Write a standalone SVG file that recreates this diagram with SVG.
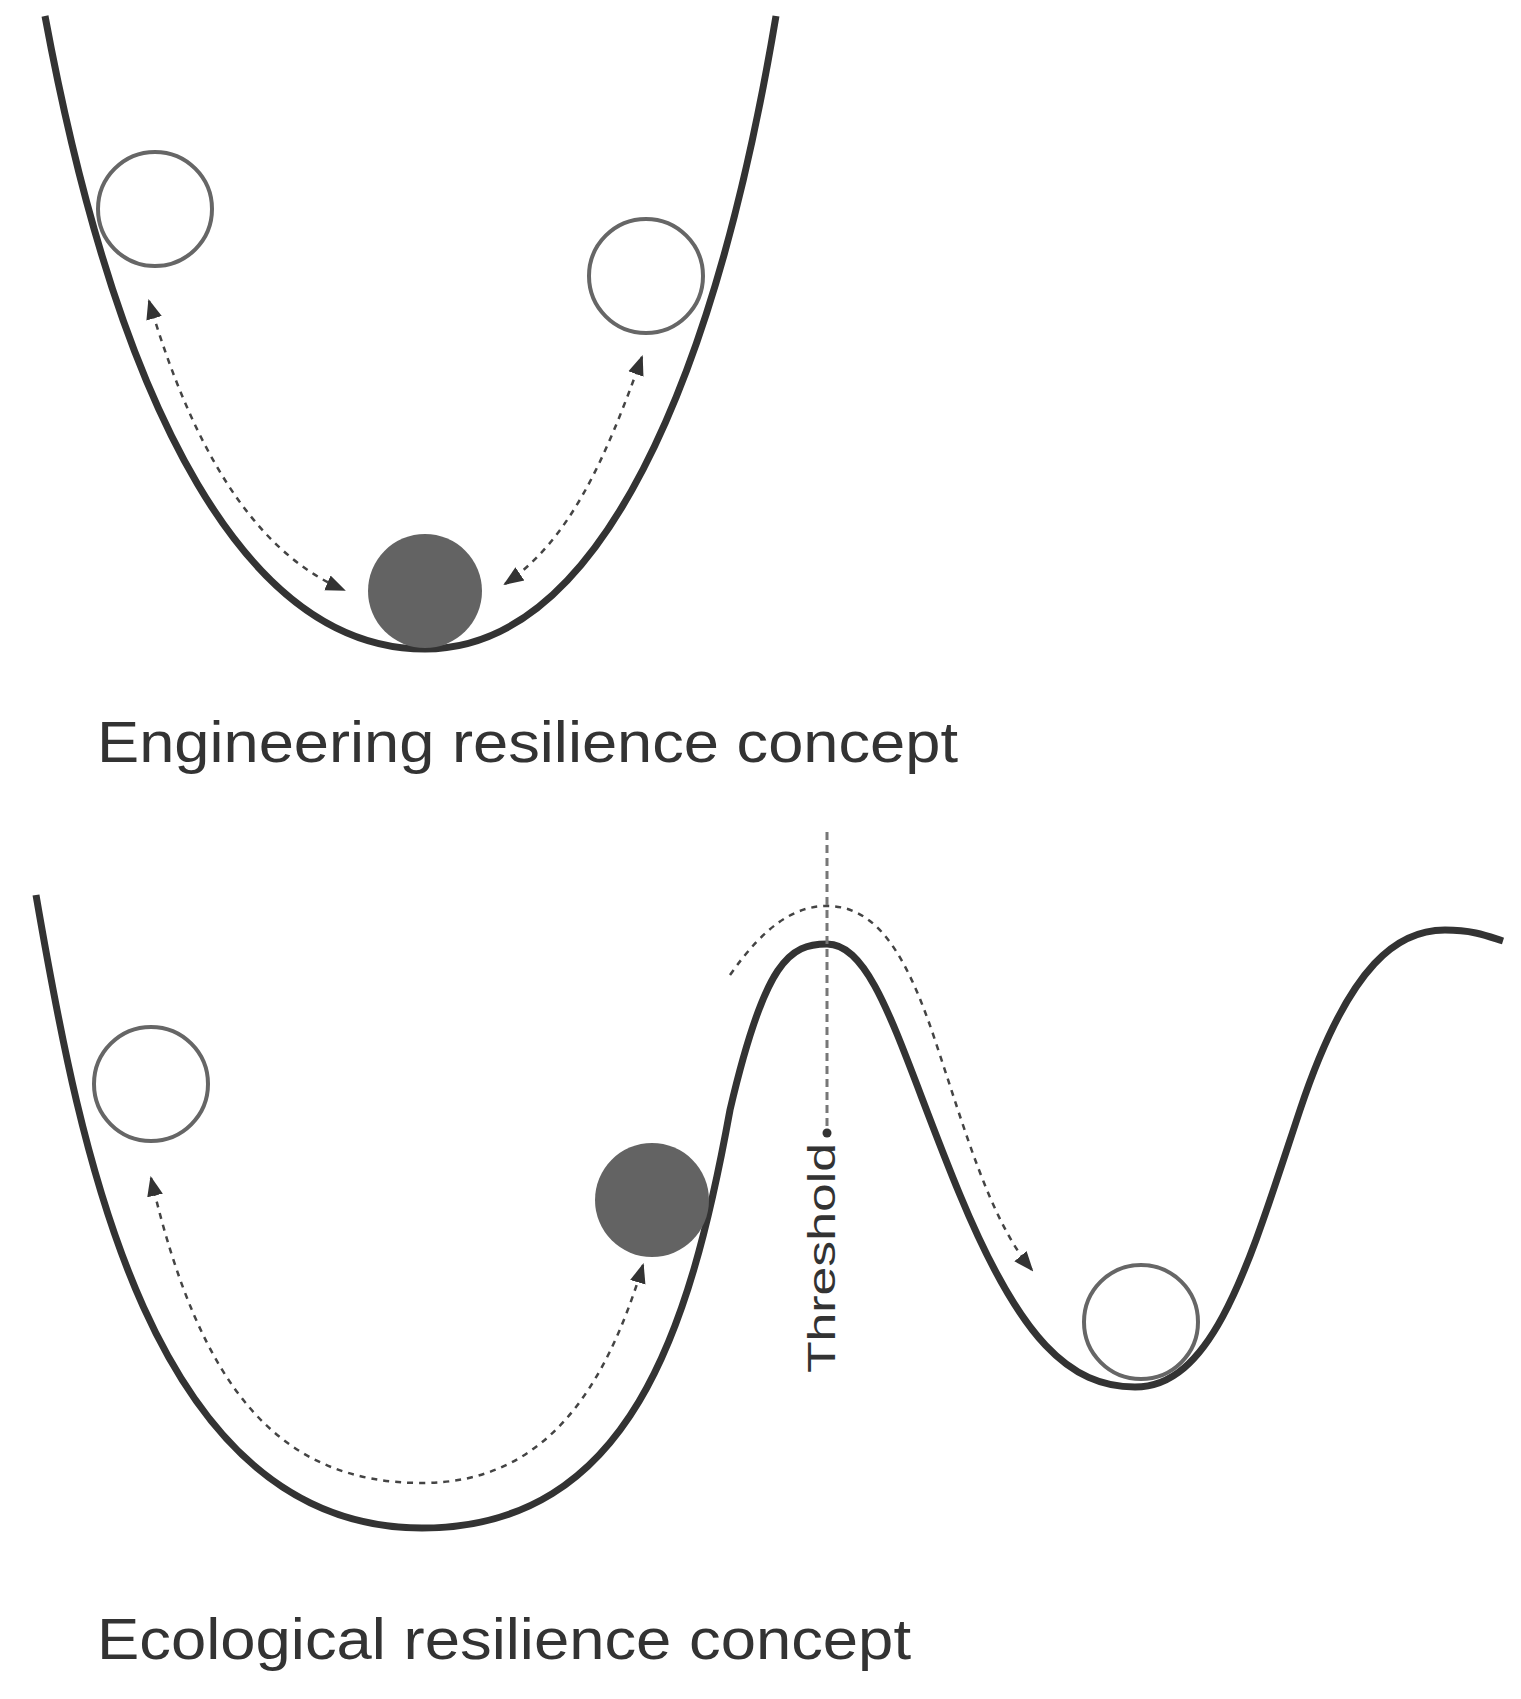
<svg xmlns="http://www.w3.org/2000/svg" width="1521" height="1699" viewBox="0 0 1521 1699">
<style>
.land{fill:none;stroke:#333;stroke-width:7}
.open{fill:#fff;stroke:#666;stroke-width:4}
.ball{fill:#636363}
.dash{fill:none;stroke:#444;stroke-width:2.5;stroke-dasharray:6 6}
.lbl{font-family:"Liberation Sans",Arial,sans-serif;fill:#333}
</style>
<defs>
<marker id="ahb" viewBox="0 0 10 10" refX="9" refY="5" markerWidth="20" markerHeight="20" orient="auto-start-reverse" markerUnits="userSpaceOnUse"><path d="M0,1 L10,5 L0,9 z" fill="#333"/></marker>
</defs>
<g id="top-landscape"><path class="land" d="M45,16 C120,420 250,649 425,649 C600,649 715,380 776,16"/></g>
<g id="top-ball-left"><circle class="open" cx="155" cy="209" r="57"/></g>
<g id="top-ball-right"><circle class="open" cx="646" cy="276" r="57"/></g>
<g id="top-ball-center"><circle class="ball" cx="425" cy="591" r="57"/></g>
<g id="bottom-landscape"><path class="land" d="M36,895 C80,1150 150,1528 422,1528 C630,1528 690,1330 730,1110 C765,960 790,944 827,944 C875,944 900,1050 960,1195 C1020,1340 1070,1387 1135,1387 C1215,1387 1250,1260 1300,1110 C1350,960 1400,930 1445,930 C1475,930 1490,937 1503,941"/></g>
<g id="bottom-ball-left"><circle class="open" cx="151" cy="1084" r="57"/></g>
<g id="bottom-ball-center"><circle class="ball" cx="652" cy="1200" r="57"/></g>
<g id="bottom-ball-right"><circle class="open" cx="1141" cy="1322" r="57"/></g>
<g id="connectors">
<path class="dash" d="M149,301 C190,440 250,550 344,590" marker-start="url(#ahb)" marker-end="url(#ahb)"/>
<path class="dash" d="M642,357 C605,460 570,540 505,584" marker-start="url(#ahb)" marker-end="url(#ahb)"/>
<path class="dash" d="M151,1178 C200,1390 280,1483 422,1483 C545,1483 605,1390 643,1265" marker-start="url(#ahb)" marker-end="url(#ahb)"/>
<path class="dash" d="M730,975 C765,925 795,906 827,906 C875,906 905,950 935,1040 C965,1130 990,1220 1032,1270" marker-end="url(#ahb)"/>
<line x1="827" y1="832" x2="827" y2="1133" stroke="#777" stroke-width="3" stroke-dasharray="8 5"/>
<circle cx="827" cy="1133" r="4.5" fill="#333"/>
</g>
<text class="lbl" x="97" y="762" font-size="58" textLength="861" lengthAdjust="spacingAndGlyphs">Engineering resilience concept</text>
<text class="lbl" x="97" y="1659" font-size="58" textLength="814" lengthAdjust="spacingAndGlyphs">Ecological resilience concept</text>
<text class="lbl" transform="translate(835,1373) rotate(-90)" font-size="38" textLength="230" lengthAdjust="spacingAndGlyphs">Threshold</text>
</svg>
